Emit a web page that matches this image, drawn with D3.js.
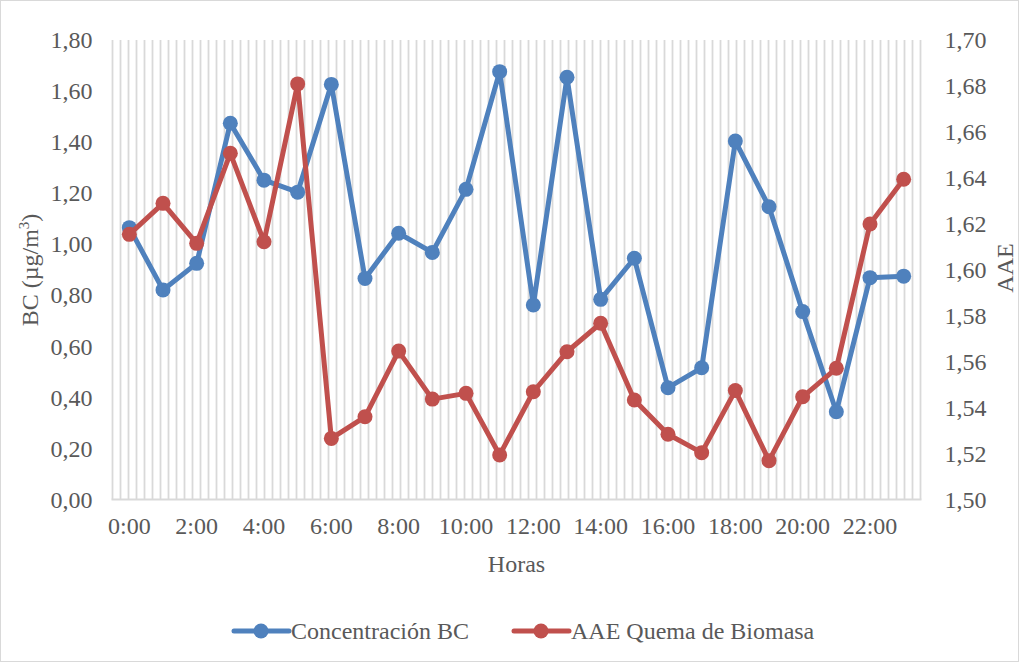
<!DOCTYPE html>
<html>
<head>
<meta charset="utf-8">
<script src="https://cdn.jsdelivr.net/npm/d3@7"></script>
<style>
  html, body { margin: 0; padding: 0; background: #fff; }
  svg { display: block; }
</style>
</head>
<body>
<svg id="chart" width="1019" height="662"></svg>
<script>
// Hourly categories
const hours = ["0:00","1:00","2:00","3:00","4:00","5:00","6:00","7:00","8:00","9:00","10:00","11:00",
               "12:00","13:00","14:00","15:00","16:00","17:00","18:00","19:00","20:00","21:00","22:00","23:00"];
// Black carbon concentration (µg/m³), left axis
const bcValues = [1.065, 0.821, 0.925, 1.474, 1.251, 1.204, 1.626, 0.866, 1.043, 0.968, 1.215, 1.676,
                  0.762, 1.654, 0.784, 0.945, 0.438, 0.516, 1.404, 1.147, 0.736, 0.344, 0.869, 0.875];
// Absorption Ångström exponent for biomass burning, right axis
const aaeValues = [1.6154, 1.6289, 1.6115, 1.6507, 1.6122, 1.6809, 1.5266, 1.5360, 1.5646, 1.5437, 1.5462, 1.5194,
                   1.5469, 1.5643, 1.5767, 1.5433, 1.5284, 1.5204, 1.5474, 1.5169, 1.5447, 1.5571, 1.6199, 1.6394];
// Tick labels
const leftTicks = [0, 0.2, 0.4, 0.6, 0.8, 1.0, 1.2, 1.4, 1.6, 1.8];
const rightTicks = [1.50, 1.52, 1.54, 1.56, 1.58, 1.60, 1.62, 1.64, 1.66, 1.68, 1.70];
const xLabelHours = ["0:00","2:00","4:00","6:00","8:00","10:00","12:00","14:00","16:00","18:00","20:00","22:00"];
const seriesNames = ["Concentración BC", "AAE Quema de Biomasa"];

const FONT = "'Liberation Serif', 'Times New Roman', Times, 'DejaVu Serif', serif";
const FS = "24px";
const blue = "#4F81BD", red = "#C0504D", grid = "#D9D9D9", textColor = "#595959";
const svg = d3.select("#chart");
const W = 1019, H = 662;
const plot = { left: 112.5, right: 920.5, top: 40, bottom: 499.5 };

// Outer chart frame
svg.append("rect").attr("x", 0.5).attr("y", 0.5).attr("width", W - 1).attr("height", H - 1)
  .attr("fill", "#fff").attr("stroke", grid).attr("stroke-width", 1);

const x = d3.scaleBand().domain(hours).range([plot.left, plot.right]).paddingInner(0).paddingOuter(0);
const yL = d3.scaleLinear().domain([0, 1.8]).range([plot.bottom, plot.top]);
const yR = d3.scaleLinear().domain([1.5, 1.7]).range([plot.bottom, plot.top]);
const xc = h => x(h) + x.bandwidth() / 2;

// Fine vertical grid across the plot area
const gridStep = (plot.right - plot.left) / 101;
const gridX = d3.range(0, 102).map(i => plot.left + i * gridStep);
svg.append("g").selectAll("line").data(gridX).join("line")
  .attr("x1", d => d).attr("x2", d => d)
  .attr("y1", plot.top).attr("y2", plot.bottom)
  .attr("stroke", grid).attr("stroke-width", 1.8);

// Bottom axis line
svg.append("line").attr("x1", plot.left - 1).attr("x2", plot.right + 1)
  .attr("y1", plot.bottom).attr("y2", plot.bottom)
  .attr("stroke", grid).attr("stroke-width", 2);

const fmt = v => d3.format(".2f")(v).replace(".", ",");
function styleAxis(g) {
  g.select(".domain").remove();
  g.attr("font-family", FONT).attr("font-size", FS);
  g.selectAll("text").attr("fill", textColor);
}

// Left axis labels
svg.append("g").attr("transform", `translate(${plot.left},0)`)
  .call(d3.axisLeft(yL).tickValues(leftTicks).tickFormat(fmt).tickSize(0).tickPadding(20))
  .call(styleAxis);

// Right axis labels
svg.append("g").attr("transform", `translate(${plot.right},0)`)
  .call(d3.axisRight(yR).tickValues(rightTicks).tickFormat(fmt).tickSize(0).tickPadding(24))
  .call(styleAxis);

// Bottom axis labels
svg.append("g").attr("transform", `translate(0,${plot.bottom})`)
  .call(d3.axisBottom(x).tickValues(xLabelHours).tickSize(0).tickPadding(17))
  .call(styleAxis);

// Axis titles
const titles = svg.append("g").attr("font-family", FONT).attr("font-size", FS).attr("fill", textColor);
const yTitle = titles.append("text").attr("transform", "translate(38,270) rotate(-90)")
  .attr("text-anchor", "middle");
yTitle.append("tspan").text("BC (µg/m");
yTitle.append("tspan").text("3").attr("dy", -9).attr("font-size", "15px");
yTitle.append("tspan").text(")").attr("dy", 9);

titles.append("text").attr("transform", "translate(1013,268) rotate(-90)")
  .attr("text-anchor", "middle").text("AAE");

titles.append("text").attr("x", (plot.left + plot.right) / 2).attr("y", 572)
  .attr("text-anchor", "middle").text("Horas");

// Series
function drawSeries(values, yScale, color) {
  const pts = hours.map((h, i) => [xc(h), yScale(values[i])]);
  svg.append("path").datum(pts)
    .attr("d", d3.line())
    .attr("fill", "none").attr("stroke", color).attr("stroke-width", 5)
    .attr("stroke-linejoin", "round").attr("stroke-linecap", "round");
  svg.append("g").selectAll("circle").data(pts).join("circle")
    .attr("cx", d => d[0]).attr("cy", d => d[1]).attr("r", 7.5).attr("fill", color);
}
drawSeries(bcValues, yL, blue);
drawSeries(aaeValues, yR, red);

// Legend
const legendItems = [
  { name: seriesNames[0], color: blue, x0: 234 },
  { name: seriesNames[1], color: red, x0: 514 }
];
const lg = svg.append("g").attr("font-family", FONT).attr("font-size", FS).attr("fill", textColor);
legendItems.forEach(it => {
  lg.append("line").attr("x1", it.x0).attr("x2", it.x0 + 55).attr("y1", 631).attr("y2", 631)
    .attr("stroke", it.color).attr("stroke-width", 5).attr("stroke-linecap", "round");
  lg.append("circle").attr("cx", it.x0 + 27).attr("cy", 631).attr("r", 7.5).attr("fill", it.color);
  lg.append("text").attr("x", it.x0 + 57).attr("y", 639).text(it.name);
});
</script>
</body>
</html>
